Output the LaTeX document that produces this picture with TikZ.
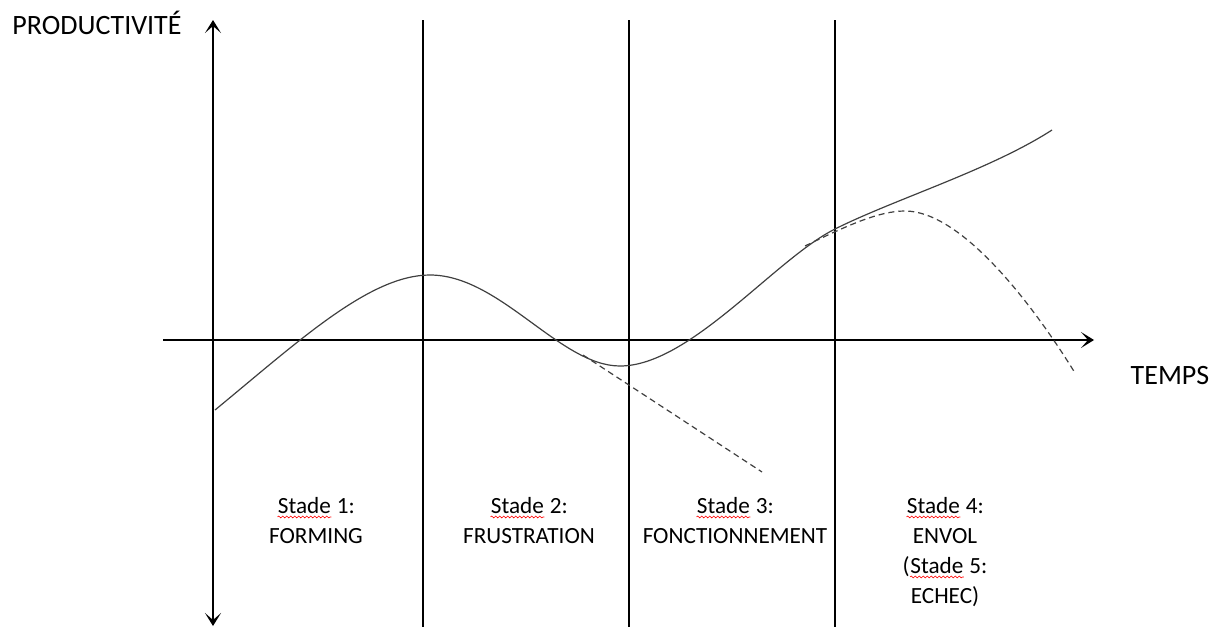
\documentclass[tikz,border=0pt]{standalone}
\usepackage{fontspec}
\setmainfont{Carlito}
\usetikzlibrary{decorations.pathmorphing, arrows.meta}

\newcommand{\fautif}[1]{\tikz[baseline=(w.base)]{\node[inner sep=0pt] (w) {#1};
  \draw[red, line width=0.3pt, decorate, decoration={snake, amplitude=0.45pt, segment length=2pt}]
    ([yshift=-1.6pt]w.south west) -- ([yshift=-1.6pt]w.south east);}}

\tikzset{
  axe/.style={line width=1pt},
  fleche/.style={-{Stealth[length=6.5pt, width=8pt, inset=3.5pt]}},
  stade/.style={align=center, font=\fontsize{11.6}{15}\selectfont, anchor=north},
  titre/.style={font=\fontsize{14}{16}\selectfont},
  courbe/.style={line width=0.6pt, black!75},
  pointille/.style={line width=0.6pt, black!75, dash pattern=on 3pt off 2pt}
}

\begin{document}
\begin{tikzpicture}[x=0.5pt, y=-0.5pt]
  \useasboundingbox (0,0) rectangle (1219,627);

  % axes
  \coordinate (yhaut) at (213,20);
  \coordinate (ybas) at (213,626);
  \coordinate (xg) at (163,340);
  \coordinate (xd) at (1094,340);
  \coordinate (ymil) at (213,340);
  \draw[axe, fleche] (ymil) -- (yhaut);
  \draw[axe, fleche] (ymil) -- (ybas);
  \draw[axe, fleche] (xg) -- (xd);

  % separations
  \foreach \x/\n in {423/a, 629/b, 835/c} {
    \coordinate (s\n) at (\x,20);
    \coordinate (t\n) at (\x,627);
    \draw[axe] (s\n) -- (t\n);
  }

  \node[titre] (prod) at (97,23) {PRODUCTIVITÉ};
  \node[titre] (temps) at (1170,376) {TEMPS};

  \node[stade] (st1) at (316,490) {\fautif{Stade} 1:\\FORMING};
  \node[stade] (st2) at (529,490) {\fautif{Stade} 2:\\FRUSTRATION};
  \node[stade] (st3) at (735,490) {\fautif{Stade} 3:\\FONCTIONNEMENT};
  \node[stade] (st4) at (945,490) {\fautif{Stade} 4:\\ENVOL\\(\fautif{Stade} 5:\\ECHEC)};

  % productivite
  \coordinate (c0) at (215,410);
  \coordinate (c1) at (430,275);
  \coordinate (c2) at (620,366);
  \coordinate (c3) at (835,229);
  \coordinate (c4) at (1052,130);
  \draw[courbe] (c0) .. controls (300,340) and (370,275) .. (c1)
    .. controls (500,275) and (560,366) .. (c2)
    .. controls (690,366) and (775,259) .. (c3)
    .. controls (895,199) and (990,170) .. (c4);

  % echecs
  \coordinate (d0) at (583,355);
  \coordinate (d1) at (762,472);
  \draw[pointille] (d0) -- (d1);
  \coordinate (e0) at (805,246);
  \coordinate (e1) at (905,211);
  \coordinate (e2) at (1075,373);
  \draw[pointille] (e0) .. controls (850,224) and (880,211) .. (e1)
    .. controls (960,211) and (1030,300) .. (e2);
\end{tikzpicture}
\end{document}
